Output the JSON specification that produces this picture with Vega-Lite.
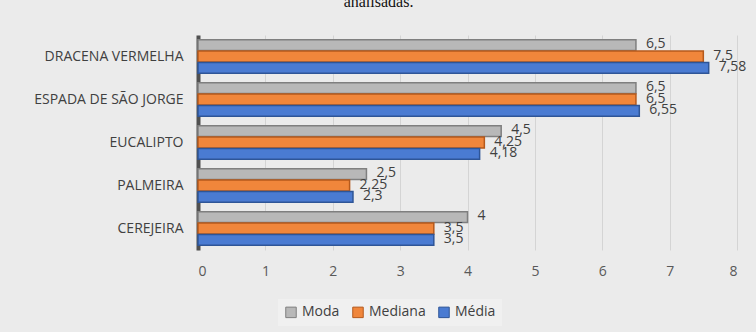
{
  "$schema": "https://vega.github.io/schema/vega-lite/v6.json",
  "width": 539,
  "height": 215,
  "autosize": {"type": "none"},
  "padding": {"left": 198, "top": 35, "right": 19, "bottom": 82},
  "background": "#ebebeb",
  "config": {
    "locale": {"number": {"decimal": ",", "thousands": ".", "grouping": [3], "currency": ["R$", ""]}},
    "view": {"stroke": null},
    "font": "Open Sans"
  },
  "title": {
    "text": "analisadas.",
    "font": "Liberation Serif",
    "fontSize": 16,
    "fontWeight": "normal",
    "color": "#111111",
    "anchor": "middle",
    "dx": -89,
    "offset": 25
  },
  "data": {
    "values": [
      {"planta": "DRACENA VERMELHA", "medida": "Moda", "valor": 6.5},
      {"planta": "DRACENA VERMELHA", "medida": "Mediana", "valor": 7.5},
      {"planta": "DRACENA VERMELHA", "medida": "Média", "valor": 7.58},
      {"planta": "ESPADA DE SÃO JORGE", "medida": "Moda", "valor": 6.5},
      {"planta": "ESPADA DE SÃO JORGE", "medida": "Mediana", "valor": 6.5},
      {"planta": "ESPADA DE SÃO JORGE", "medida": "Média", "valor": 6.55},
      {"planta": "EUCALIPTO", "medida": "Moda", "valor": 4.5},
      {"planta": "EUCALIPTO", "medida": "Mediana", "valor": 4.25},
      {"planta": "EUCALIPTO", "medida": "Média", "valor": 4.18},
      {"planta": "PALMEIRA", "medida": "Moda", "valor": 2.5},
      {"planta": "PALMEIRA", "medida": "Mediana", "valor": 2.25},
      {"planta": "PALMEIRA", "medida": "Média", "valor": 2.3},
      {"planta": "CEREJEIRA", "medida": "Moda", "valor": 4},
      {"planta": "CEREJEIRA", "medida": "Mediana", "valor": 3.5},
      {"planta": "CEREJEIRA", "medida": "Média", "valor": 3.5}
    ]
  },
  "encoding": {
    "y": {
      "field": "planta",
      "type": "nominal",
      "sort": ["DRACENA VERMELHA", "ESPADA DE SÃO JORGE", "EUCALIPTO", "PALMEIRA", "CEREJEIRA"],
      "scale": {"paddingInner": 0.22, "paddingOuter": 0.11},
      "axis": {
        "title": null,
        "ticks": false,
        "labelPadding": 15,
        "labelFontSize": 14,
        "labelColor": "#404040",
        "labelFont": "Open Sans",
        "domainColor": "#505050",
        "domainWidth": 4
      }
    },
    "yOffset": {
      "field": "medida",
      "type": "nominal",
      "sort": ["Moda", "Mediana", "Média"],
      "scale": {"paddingInner": 0.05}
    },
    "x": {
      "field": "valor",
      "type": "quantitative",
      "scale": {"domain": [0, 8], "nice": false},
      "axis": {
        "title": null,
        "values": [0, 1, 2, 3, 4, 5, 6, 7, 8],
        "format": "d",
        "labelOverlap": false,
        "ticks": false,
        "domain": false,
        "labelPadding": 14,
        "labelFontSize": 14,
        "labelColor": "#595959",
        "gridColor": "#d4d4d4",
        "gridWidth": 1
      }
    }
  },
  "layer": [
    {
      "mark": {"type": "bar", "strokeWidth": 1.5},
      "encoding": {
        "color": {
          "field": "medida",
          "type": "nominal",
          "scale": {"domain": ["Moda", "Mediana", "Média"], "range": ["#b8b8b8", "#f0863b", "#4a7bd2"]},
          "legend": {
            "title": null,
            "orient": "none",
            "direction": "horizontal",
            "legendX": 80,
            "legendY": 264,
            "symbolType": "square",
            "symbolSize": 110,
            "symbolStrokeWidth": 1,
            "labelFontSize": 14,
            "labelColor": "#404040",
            "columnPadding": 10,
            "fillColor": "#f0f0f0",
            "padding": 6
          }
        },
        "stroke": {
          "field": "medida",
          "type": "nominal",
          "scale": {"domain": ["Moda", "Mediana", "Média"], "range": ["#7f7f7f", "#b5591c", "#2e5597"]},
          "legend": null
        }
      }
    },
    {
      "mark": {"type": "text", "align": "left", "dx": 10, "dy": -1, "fontSize": 14, "color": "#404040"},
      "encoding": {
        "text": {"field": "valor", "type": "quantitative", "format": ""}
      }
    }
  ]
}
